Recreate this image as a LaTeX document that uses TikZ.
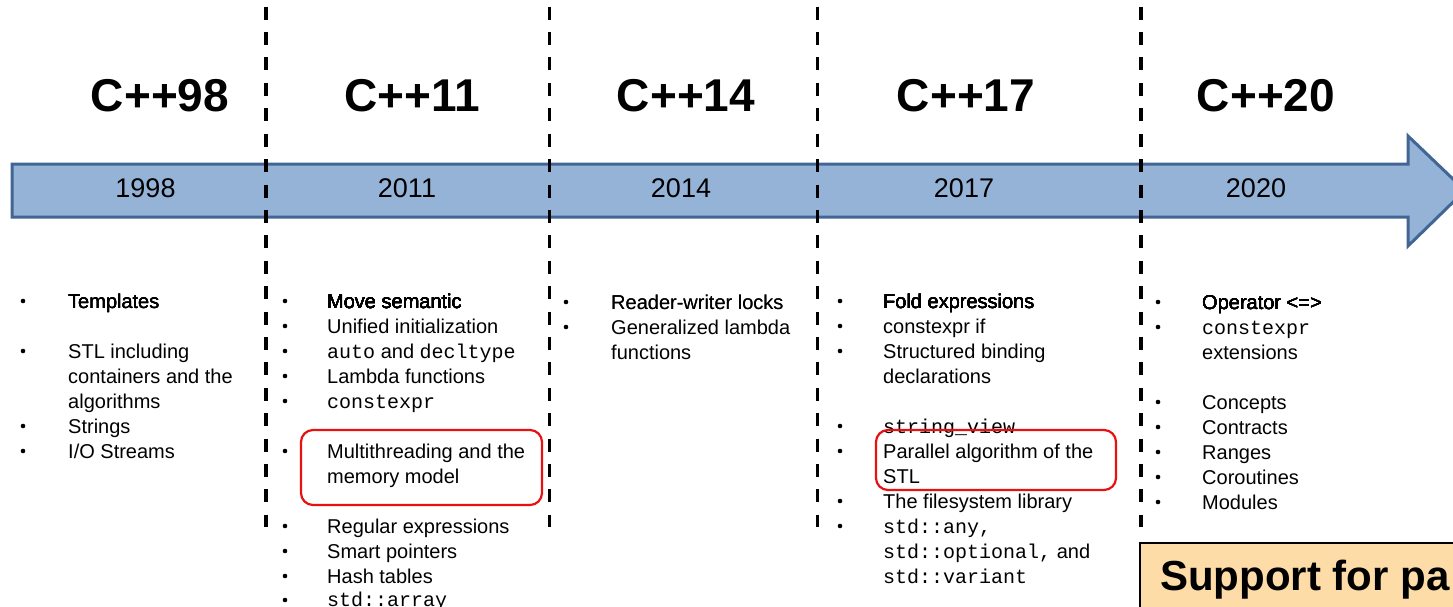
\documentclass[tikz,border=0pt]{standalone}
\usepackage{fontspec}
\setmainfont{Liberation Sans}
\setmonofont{Liberation Mono}
\definecolor{arrowfill}{RGB}{149,179,215}
\definecolor{arrowline}{RGB}{65,101,148}
\definecolor{boxfill}{RGB}{253,220,168}
\definecolor{hired}{RGB}{232,16,16}
\tikzset{
  txt/.style={anchor=base west,inner sep=0pt,font=\fontsize{20}{24}\selectfont},
  head/.style={inner sep=0pt,font=\fontsize{46}{50}\selectfont\bfseries},
  yearlbl/.style={inner sep=0pt,font=\fontsize{27}{30}\selectfont},
  sep/.style={line width=3.5pt,dash pattern=on 13pt off 12.4pt},
  redbox/.style={draw=hired,line width=2.2pt,rounded corners=12pt},
}
\newcommand\blt[2]{\fill (#1,#2) circle (2.3);}
\begin{document}
\begin{tikzpicture}[x=1pt,y=-1pt]
\useasboundingbox (0,0) rectangle (1453,607);
\clip (0,0) rectangle (1453,607);
% arrow
\draw[fill=arrowfill,draw=arrowline,line width=3pt,line join=miter]
  (12,164) -- (1408,164) -- (1408,136) -- (1465,190.5) -- (1408,246) -- (1408,217) -- (12,217) -- cycle;
% separators
\foreach \x in {266,549.5,817.5,1141} \draw[sep] (\x,6.7) -- (\x,527);
% headings
\node[head] (h98) at (160,96) {C++98};
\node[head] (h11) at (412,96) {C++11};
\node[head] (h14) at (686,96) {C++14};
\node[head] (h17) at (966,96) {C++17};
\node[head] (h20) at (1266,96) {C++20};
% years
\node[yearlbl] (y98) at (145.5,188.7) {1998};
\node[yearlbl] (y11) at (407,188.7) {2011};
\node[yearlbl] (y14) at (681,188.7) {2014};
\node[yearlbl] (y17) at (964,188.7) {2017};
\node[yearlbl] (y20) at (1256,188.7) {2020};
% column 1
\foreach \y in {301,351,426,451} \blt{23}{\y}
\node[txt] (a1) at (68,308) {Templates};
\node[txt] (a2) at (68,358) {STL including};
\node[txt] (a2b) at (68,383) {containers and the};
\node[txt] (a2c) at (68,408) {algorithms};
\node[txt] (a3) at (68,433) {Strings};
\node[txt] (a4) at (68,458) {I/O Streams};
% column 2
\foreach \y in {301,326,351,376,401,451,526,551,576,600} \blt{285}{\y}
\node[txt] (b1) at (327,308) {Move semantic};
\node[txt] (b2) at (327,333) {Unified initialization};
\node[txt] (b3) at (327,358) {\texttt{auto} and \texttt{decltype}};
\node[txt] (b4) at (327,383) {Lambda functions};
\node[txt] (b5) at (327,408) {\texttt{constexpr}};
\node[txt] (b6) at (327,458) {Multithreading and the};
\node[txt] (b6b) at (327,483) {memory model};
\node[txt] (b7) at (327,533) {Regular expressions};
\node[txt] (b8) at (327,558) {Smart pointers};
\node[txt] (b9) at (327,583) {Hash tables};
\node[txt] (b10) at (327,606) {\texttt{std::array}};
% column 3
\foreach \y in {302,327} \blt{566}{\y}
\node[txt] (c1) at (611,309) {Reader-writer locks};
\node[txt] (c2) at (611,334) {Generalized lambda};
\node[txt] (c2b) at (611,359) {functions};
% column 4
\foreach \y in {301,326,351,426,451,501,526} \blt{840}{\y}
\node[txt] (d1) at (883,308) {Fold expressions};
\node[txt] (d2) at (883,333) {constexpr if};
\node[txt] (d3) at (883,358) {Structured binding};
\node[txt] (d3b) at (883,383) {declarations};
\node[txt] (d4) at (883,433) {\texttt{string\_view}};
\node[txt] (d5) at (883,458) {Parallel algorithm of the};
\node[txt] (d5b) at (883,483) {STL};
\node[txt] (d6) at (883,508) {The filesystem library};
\node[txt] (d7) at (883,533) {\texttt{std::any,}};
\node[txt] (d7b) at (883,558) {\texttt{std::optional,} and};
\node[txt] (d7c) at (883,583) {\texttt{std::variant}};
% column 5
\foreach \y in {302,327,402,427,452,477,502} \blt{1158}{\y}
\node[txt] (e1) at (1202,309) {Operator <=>};
\node[txt] (e2) at (1202,334) {\texttt{constexpr}};
\node[txt] (e2b) at (1202,359) {extensions};
\node[txt] (e3) at (1202,409) {Concepts};
\node[txt] (e4) at (1202,434) {Contracts};
\node[txt] (e5) at (1202,459) {Ranges};
\node[txt] (e6) at (1202,484) {Coroutines};
\node[txt] (e7) at (1202,509) {Modules};
% highlight boxes
\draw[redbox] (301,430) rectangle (542,505);
\draw[redbox] (876,430) rectangle (1116,490);
% bottom-right box
\draw[fill=boxfill,draw=black,line width=2pt] (1140,543) rectangle (1470,620);
\node[anchor=base west,inner sep=0pt,font=\fontsize{42}{46}\selectfont\bfseries] (sup) at (1160,590) {Support for pa};
\end{tikzpicture}
\end{document}
